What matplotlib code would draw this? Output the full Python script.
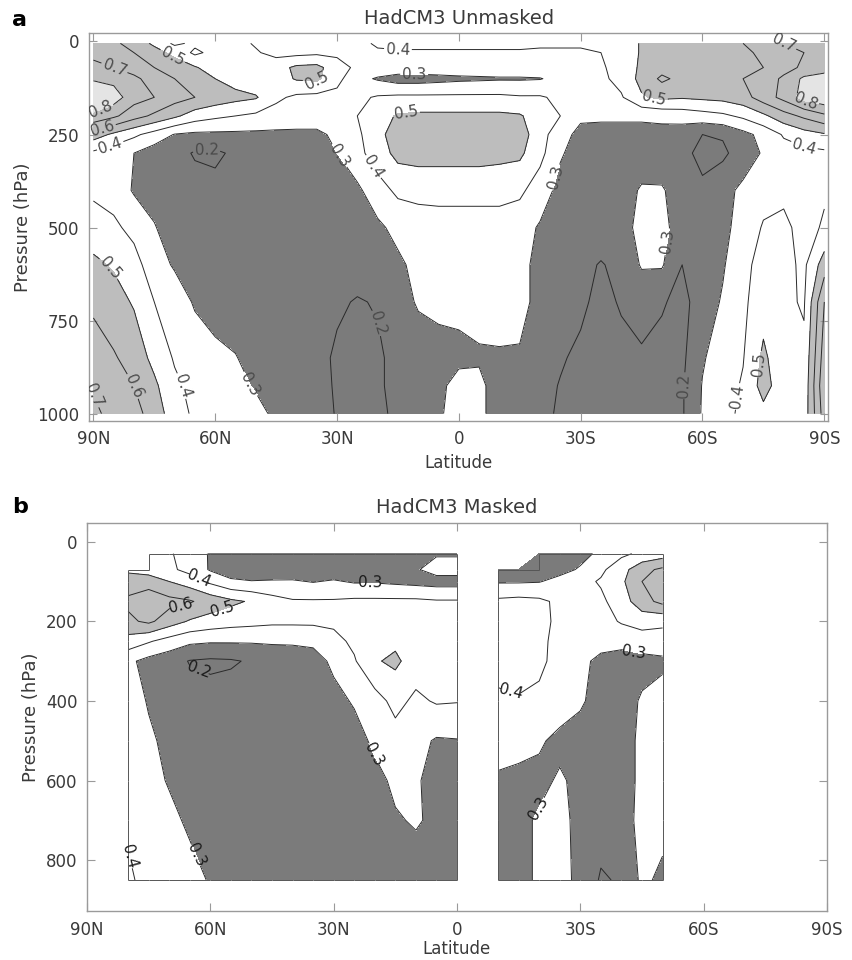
import matplotlib
matplotlib.use("Agg")
import matplotlib.pyplot as plt
import numpy as np
from matplotlib.collections import LineCollection

nan = np.nan

# Zonal-mean ratio, unmasked model fields (rows: pressure, cols: latitude)
lat_a = [90, 85, 80, 75, 70, 65, 60, 55, 50, 45, 40, 35, 30, 25, 20, 15, 10, 5, 0,
         -5, -10, -15, -20, -25, -30, -35, -40, -45, -50, -55, -60, -65, -70, -75, -80, -85, -90]
pres_a = [5, 30, 70, 100, 150, 200, 250, 300, 400, 500, 600, 700, 850, 925, 1000]
ratio_a = np.array([
    [0.66, 0.62, 0.56, 0.48, 0.38, 0.42, 0.44, 0.43, 0.39, 0.37, 0.36, 0.37, 0.37, 0.38, 0.41, 0.42, 0.42, 0.42, 0.42,
     0.42, 0.42, 0.42, 0.41, 0.41, 0.41, 0.41, 0.44, 0.51, 0.53, 0.55, 0.56, 0.58, 0.60, 0.66, 0.70, 0.72, 0.75],
    [0.68, 0.65, 0.60, 0.54, 0.47, 0.38, 0.43, 0.44, 0.41, 0.37, 0.37, 0.38, 0.38, 0.38, 0.39, 0.39, 0.39, 0.39, 0.39,
     0.39, 0.39, 0.39, 0.39, 0.39, 0.39, 0.40, 0.44, 0.51, 0.52, 0.53, 0.54, 0.55, 0.58, 0.62, 0.66, 0.70, 0.74],
    [0.72, 0.70, 0.66, 0.60, 0.56, 0.51, 0.45, 0.44, 0.43, 0.46, 0.52, 0.53, 0.44, 0.38, 0.36, 0.36, 0.36, 0.36, 0.36,
     0.36, 0.36, 0.36, 0.36, 0.37, 0.38, 0.39, 0.43, 0.52, 0.56, 0.55, 0.53, 0.55, 0.56, 0.60, 0.66, 0.72, 0.76],
    [0.79, 0.77, 0.72, 0.66, 0.60, 0.55, 0.50, 0.46, 0.43, 0.45, 0.51, 0.52, 0.43, 0.33, 0.29, 0.26, 0.26, 0.27, 0.28,
     0.285, 0.29, 0.29, 0.295, 0.33, 0.36, 0.38, 0.43, 0.53, 0.62, 0.57, 0.55, 0.56, 0.60, 0.64, 0.72, 0.82, 0.84],
    [0.88, 0.85, 0.74, 0.70, 0.64, 0.60, 0.56, 0.53, 0.51, 0.42, 0.38, 0.37, 0.37, 0.38, 0.41, 0.42, 0.42, 0.42, 0.42,
     0.42, 0.42, 0.41, 0.41, 0.38, 0.37, 0.37, 0.39, 0.49, 0.52, 0.51, 0.52, 0.53, 0.56, 0.65, 0.73, 0.84, 0.88],
    [0.78, 0.72, 0.64, 0.58, 0.52, 0.45, 0.42, 0.40, 0.38, 0.36, 0.35, 0.35, 0.36, 0.40, 0.46, 0.51, 0.52, 0.52, 0.52,
     0.52, 0.52, 0.51, 0.45, 0.40, 0.32, 0.32, 0.32, 0.32, 0.33, 0.34, 0.36, 0.38, 0.42, 0.48, 0.56, 0.62, 0.68],
    [0.55, 0.48, 0.42, 0.36, 0.295, 0.28, 0.28, 0.28, 0.28, 0.28, 0.28, 0.28, 0.32, 0.38, 0.47, 0.55, 0.56, 0.56, 0.56,
     0.56, 0.55, 0.55, 0.44, 0.34, 0.27, 0.26, 0.26, 0.26, 0.26, 0.25, 0.20, 0.21, 0.27, 0.33, 0.41, 0.46, 0.49],
    [0.38, 0.34, 0.30, 0.25, 0.24, 0.19, 0.18, 0.22, 0.24, 0.25, 0.26, 0.27, 0.30, 0.37, 0.45, 0.53, 0.54, 0.54, 0.54,
     0.54, 0.53, 0.52, 0.43, 0.31, 0.26, 0.25, 0.25, 0.25, 0.24, 0.23, 0.17, 0.18, 0.25, 0.31, 0.36, 0.37, 0.38],
    [0.38, 0.36, 0.29, 0.27, 0.25, 0.24, 0.23, 0.24, 0.25, 0.25, 0.25, 0.25, 0.26, 0.28, 0.36, 0.42, 0.43, 0.43, 0.43,
     0.43, 0.43, 0.42, 0.35, 0.27, 0.25, 0.24, 0.26, 0.31, 0.31, 0.25, 0.22, 0.27, 0.32, 0.36, 0.38, 0.38, 0.39],
    [0.45, 0.42, 0.37, 0.305, 0.26, 0.25, 0.24, 0.24, 0.24, 0.24, 0.24, 0.24, 0.24, 0.25, 0.28, 0.33, 0.35, 0.36, 0.36,
     0.36, 0.36, 0.34, 0.29, 0.25, 0.24, 0.24, 0.25, 0.34, 0.33, 0.25, 0.23, 0.28, 0.33, 0.41, 0.42, 0.37, 0.41],
    [0.52, 0.49, 0.44, 0.34, 0.29, 0.26, 0.24, 0.23, 0.23, 0.23, 0.23, 0.23, 0.23, 0.23, 0.25, 0.28, 0.33, 0.35, 0.35,
     0.35, 0.35, 0.33, 0.27, 0.23, 0.22, 0.195, 0.22, 0.31, 0.31, 0.20, 0.24, 0.29, 0.37, 0.44, 0.43, 0.38, 0.55],
    [0.58, 0.54, 0.49, 0.40, 0.35, 0.29, 0.25, 0.24, 0.24, 0.24, 0.23, 0.23, 0.21, 0.195, 0.205, 0.26, 0.31, 0.32, 0.32,
     0.33, 0.34, 0.33, 0.27, 0.23, 0.22, 0.17, 0.21, 0.23, 0.21, 0.17, 0.25, 0.31, 0.38, 0.46, 0.42, 0.39, 0.70],
    [0.65, 0.61, 0.56, 0.47, 0.39, 0.35, 0.33, 0.305, 0.26, 0.25, 0.24, 0.22, 0.19, 0.18, 0.19, 0.22, 0.25, 0.27, 0.28,
     0.29, 0.29, 0.29, 0.23, 0.21, 0.18, 0.16, 0.17, 0.19, 0.17, 0.18, 0.29, 0.35, 0.395, 0.52, 0.43, 0.42, 0.75],
    [0.69, 0.64, 0.60, 0.52, 0.42, 0.37, 0.33, 0.33, 0.29, 0.26, 0.24, 0.23, 0.19, 0.18, 0.19, 0.22, 0.25, 0.28, 0.33,
     0.32, 0.26, 0.25, 0.23, 0.195, 0.17, 0.16, 0.17, 0.17, 0.17, 0.19, 0.305, 0.36, 0.41, 0.54, 0.44, 0.43, 0.78],
    [0.72, 0.67, 0.64, 0.55, 0.45, 0.38, 0.36, 0.35, 0.33, 0.28, 0.25, 0.23, 0.195, 0.18, 0.19, 0.21, 0.25, 0.28, 0.36,
     0.32, 0.26, 0.25, 0.22, 0.19, 0.17, 0.16, 0.16, 0.17, 0.17, 0.19, 0.31, 0.37, 0.42, 0.47, 0.44, 0.44, 0.75],
])

# Same ratio with the observational mask applied (nan = no data)
lat_b = [80, 75, 70, 65, 60, 55, 50, 45, 40, 35, 30, 25, 20, 15, 10, 5, 0,
         -5, -10, -15, -20, -25, -30, -35, -40, -45, -50]
pres_b = [30, 70, 100, 150, 200, 250, 300, 400, 500, 600, 700, 850]
ratio_b = np.array([
    [nan, 0.42, 0.41, 0.36, 0.29, 0.25, 0.24, 0.24, 0.24, 0.24, 0.24, 0.24, 0.24, 0.25, 0.27, 0.29, 0.29,
     nan, nan, nan, 0.22, 0.24, 0.27, 0.32, 0.38, 0.42, 0.45],
    [0.48, 0.45, 0.42, 0.37, 0.29, 0.24, 0.23, 0.23, 0.24, 0.24, 0.24, 0.24, 0.24, 0.25, 0.29, 0.34, 0.34,
     nan, 0.20, 0.22, 0.24, 0.27, 0.31, 0.38, 0.46, 0.57, 0.62],
    [0.55, 0.56, 0.50, 0.45, 0.38, 0.32, 0.305, 0.31, 0.31, 0.295, 0.31, 0.29, 0.29, 0.28, 0.27, 0.26, 0.26,
     nan, 0.29, 0.29, 0.295, 0.33, 0.37, 0.41, 0.48, 0.60, 0.65],
    [0.62, 0.66, 0.63, 0.61, 0.56, 0.52, 0.49, 0.44, 0.41, 0.41, 0.41, 0.42, 0.42, 0.42, 0.42, 0.41, 0.41,
     nan, 0.42, 0.43, 0.42, 0.38, 0.36, 0.38, 0.45, 0.56, 0.63],
    [0.58, 0.62, 0.55, 0.49, 0.46, 0.44, 0.43, 0.42, 0.42, 0.42, 0.42, 0.44, 0.46, 0.46, 0.45, 0.44, 0.44,
     nan, 0.44, 0.45, 0.44, 0.37, 0.34, 0.36, 0.41, 0.44, 0.42],
    [0.46, 0.41, 0.36, 0.32, 0.31, 0.31, 0.31, 0.31, 0.31, 0.32, 0.37, 0.42, 0.47, 0.48, 0.47, 0.46, 0.45,
     nan, 0.44, 0.46, 0.43, 0.36, 0.34, 0.33, 0.33, 0.35, 0.36],
    [0.32, 0.27, 0.24, 0.195, 0.185, 0.19, 0.21, 0.25, 0.26, 0.26, 0.32, 0.39, 0.49, 0.52, 0.45, 0.45, 0.44,
     nan, 0.44, 0.45, 0.43, 0.35, 0.32, 0.28, 0.26, 0.27, 0.28],
    [0.36, 0.29, 0.25, 0.24, 0.23, 0.24, 0.24, 0.25, 0.25, 0.25, 0.27, 0.31, 0.36, 0.43, 0.38, 0.41, 0.405,
     nan, 0.38, 0.39, 0.37, 0.34, 0.31, 0.27, 0.26, 0.31, 0.34],
    [0.37, 0.32, 0.27, 0.25, 0.24, 0.24, 0.24, 0.24, 0.24, 0.24, 0.25, 0.26, 0.32, 0.36, 0.33, 0.29, 0.295,
     nan, 0.36, 0.34, 0.31, 0.28, 0.27, 0.26, 0.26, 0.32, 0.35],
    [0.38, 0.34, 0.29, 0.26, 0.23, 0.23, 0.23, 0.23, 0.23, 0.23, 0.23, 0.24, 0.27, 0.32, 0.31, 0.27, 0.27,
     nan, 0.28, 0.27, 0.28, 0.31, 0.28, 0.25, 0.26, 0.32, 0.34],
    [0.39, 0.37, 0.33, 0.28, 0.23, 0.23, 0.23, 0.23, 0.23, 0.23, 0.23, 0.23, 0.25, 0.29, 0.31, 0.28, 0.27,
     nan, 0.27, 0.28, 0.31, 0.33, 0.27, 0.24, 0.27, 0.32, 0.33],
    [0.41, 0.38, 0.36, 0.34, 0.29, 0.24, 0.23, 0.23, 0.23, 0.23, 0.23, 0.23, 0.23, 0.23, 0.25, 0.26, 0.26,
     nan, 0.26, 0.28, 0.31, 0.34, 0.27, 0.19, 0.21, 0.32, 0.28],
])

fill_levels = [0.0, 0.3, 0.5, 0.8, 1.5]
fill_colors = ["#7b7b7b", "#ffffff", "#bdbdbd", "#e4e4e4"]
line_levels = [0.2, 0.3, 0.4, 0.5, 0.6, 0.7, 0.8, 0.9, 1.0]

lat_ticks = [90, 60, 30, 0, -30, -60, -90]
lat_ticklabels = ["90N", "60N", "30N", "0", "30S", "60S", "90S"]

# where the contour labels sit (lat, hPa), per contour level
labels_a = {
    0.2: [(62, 305), (22, 760), (-55, 925)],
    0.3: [(11, 100), (28, 296), (-23, 363), (-48, 533), (51, 919)],
    0.4: [(86, 275), (15, 40), (21, 336), (-85, 283), (68, 925), (-66, 950)],
    0.5: [(73, 85), (35, 112), (13, 193), (-48, 157), (86, 609), (-72, 865)],
    0.6: [(88, 225), (78, 919)],
    0.7: [(85, 76), (86, 884), (-71, 10)],
    0.8: [(88, 190), (-85, 180)],
}
labels_b = {
    0.2: [(63, 330)],
    0.3: [(21, 115), (19, 526), (63, 785), (-43, 280), (-20, 670)],
    0.4: [(63, 100), (75, 777), (-13, 380)],
    0.5: [(57, 168)],
    0.6: [(67, 168)],
}

TEXT = "#3a3a3a"
FRAME = "#9a9a9a"


def data_edges(ax, lat, pres, z):
    """Outline the cells that hold data."""
    lat = np.asarray(lat, float)
    pres = np.asarray(pres, float)
    ok = np.isfinite(z)
    cell = ok[:-1, :-1] & ok[1:, :-1] & ok[:-1, 1:] & ok[1:, 1:]
    pad = np.pad(cell, 1, constant_values=False)
    ny, nx = cell.shape
    segs = []
    for i in range(ny + 1):
        for j in range(nx):
            if pad[i, j + 1] != pad[i + 1, j + 1]:
                segs.append([(lat[j], pres[i]), (lat[j + 1], pres[i])])
    for j in range(nx + 1):
        for i in range(ny):
            if pad[i + 1, j] != pad[i + 1, j + 1]:
                segs.append([(lat[j], pres[i]), (lat[j], pres[i + 1])])
    ax.add_collection(LineCollection(segs, colors="#555555", linewidths=0.7, zorder=3))


def panel(ax, lat, pres, z, labels, title, yticks, ylim, xlim, lab_color, xlabelpad):
    ax.contourf(lat, pres, z, levels=fill_levels, colors=fill_colors)
    # one contour set per level so each level can carry its own labels
    for lev in line_levels:
        if np.nanmin(z) >= lev or np.nanmax(z) <= lev:
            continue
        cs = ax.contour(lat, pres, z, levels=[lev], colors="#2a2a2a", linewidths=0.7)
        if lev in labels:
            ax.clabel(cs, manual=labels[lev], fmt="%.1f", fontsize=11,
                      colors=lab_color, inline=True, inline_spacing=2)
    ax.set_xlim(*xlim)
    ax.set_ylim(*ylim)
    ax.set_xticks(lat_ticks)
    ax.set_xticklabels(lat_ticklabels)
    ax.set_yticks(yticks)
    ax.tick_params(direction="in", top=True, right=True, length=6, width=0.8,
                   color=FRAME, labelsize=12, labelcolor=TEXT, pad=7)
    for sp in ax.spines.values():
        sp.set_color(FRAME)
        sp.set_linewidth(1.0)
    ax.set_xlabel("Latitude", fontsize=12, color=TEXT, labelpad=xlabelpad)
    ax.set_ylabel("Pressure (hPa)", fontsize=13, color=TEXT, labelpad=4)
    ax.set_title(title, fontsize=14, color=TEXT, pad=7)


fig = plt.figure(figsize=(8.53, 9.6), dpi=100)

ax_a = fig.add_axes([0.1047, 0.5618, 0.8664, 0.4035])
panel(ax_a, lat_a, pres_a, ratio_a, labels_a, "HadCM3 Unmasked",
      [0, 250, 500, 750, 1000], (1019, -22), (91, -91), "#4a4a4a", 4)

ax_b = fig.add_axes([0.1020, 0.0510, 0.8675, 0.4042])
panel(ax_b, lat_b, pres_b, ratio_b, labels_b, "HadCM3 Masked",
      [0, 200, 400, 600, 800], (928, -47), (90, -90), "#1a1a1a", 1)
data_edges(ax_b, lat_b, pres_b, ratio_b)

fig.text(20 / 853, 1 - 20 / 960, "a", fontsize=16, fontweight="bold", ha="center", va="center")
fig.text(20 / 853, 1 - 507 / 960, "b", fontsize=16, fontweight="bold", ha="center", va="center")

fig.savefig("out.png", dpi=100)
plt.close(fig)
